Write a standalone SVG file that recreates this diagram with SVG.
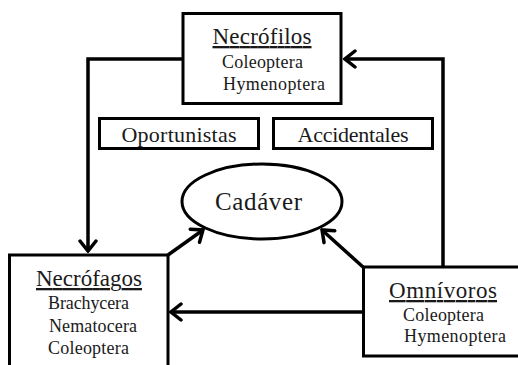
<svg xmlns="http://www.w3.org/2000/svg" width="518" height="365" viewBox="0 0 518 365">
<style>
.box{fill:#fff;stroke:#000;stroke-width:3}
.t{font-family:"Liberation Serif","Times New Roman",serif;fill:#1a1a1a}
.h{font-size:23px;text-decoration:underline}
.s{font-size:18px}
.l{font-size:22px}
.c{fill:none;stroke:#000;stroke-width:3.5;stroke-linejoin:miter}
</style>
<defs>
<marker id="a" viewBox="-12 -10 14 20" markerWidth="14" markerHeight="20" refX="0" refY="0" orient="auto" markerUnits="userSpaceOnUse">
<path d="M-10,-8 L0,0 L-10,8" fill="none" stroke="#000" stroke-width="3.5" stroke-linecap="round" stroke-linejoin="miter"/>
</marker>
</defs>
<rect width="518" height="365" fill="#fff"/>
<g id="connectors">
<path class="c" d="M183,59 H88 V251" marker-end="url(#a)"/>
<path class="c" d="M443,267 V59 H345" marker-end="url(#a)"/>
<path class="c" d="M363,312 H171" marker-end="url(#a)"/>
<path class="c" d="M168,255 L203,230" marker-end="url(#a)"/>
<path class="c" d="M363,267 L322,230" marker-end="url(#a)"/>
</g>
<g id="necrofilos">
<rect class="box" x="183" y="13.5" width="158" height="90"/>
<text class="t h" x="262" y="44" text-anchor="middle" textLength="99">Necrófilos</text>
<text class="t s" x="222" y="68" textLength="81">Coleoptera</text>
<text class="t s" x="223" y="90" textLength="102">Hymenoptera</text>
</g>
<g id="oportunistas">
<rect class="box" x="99.5" y="118.5" width="159" height="30"/>
<text class="t l" x="179" y="142" text-anchor="middle" textLength="115">Oportunistas</text>
</g>
<g id="accidentales">
<rect class="box" x="273.5" y="118.5" width="159" height="30"/>
<text class="t l" x="353" y="142" text-anchor="middle" textLength="111">Accidentales</text>
</g>
<g id="cadaver">
<ellipse cx="262" cy="201.5" rx="80" ry="37.5" fill="#fff" stroke="#000" stroke-width="3"/>
<text class="t" x="258.5" y="210" font-size="25" text-anchor="middle" textLength="87">Cadáver</text>
</g>
<g id="necrofagos">
<rect class="box" x="9.5" y="255" width="158.5" height="115"/>
<text class="t h" x="89" y="286" text-anchor="middle" textLength="106">Necrófagos</text>
<text class="t s" x="48" y="309" textLength="81">Brachycera</text>
<text class="t s" x="49" y="332" textLength="88">Nematocera</text>
<text class="t s" x="48" y="354" textLength="81">Coleoptera</text>
</g>
<g id="omnivoros">
<rect class="box" x="363.5" y="267" width="160" height="89"/>
<text class="t h" x="443" y="298" text-anchor="middle" textLength="108">Omnívoros</text>
<text class="t s" x="403" y="321" textLength="81">Coleoptera</text>
<text class="t s" x="404" y="342" textLength="102">Hymenoptera</text>
</g>
</svg>
